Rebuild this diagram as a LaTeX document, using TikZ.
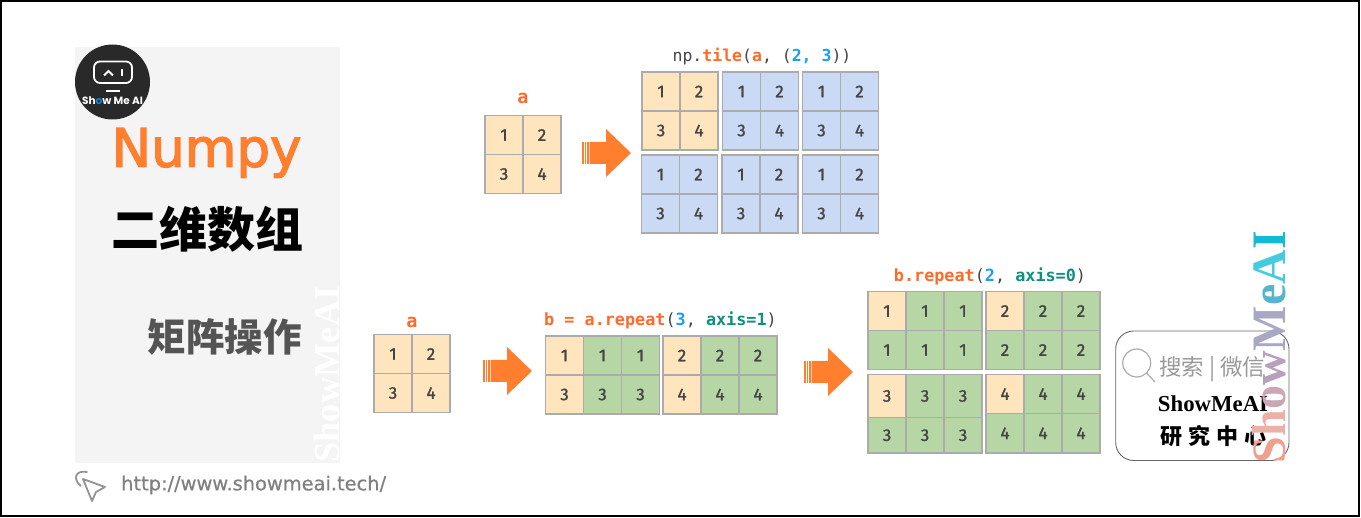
\documentclass[tikz,border=0pt]{standalone}
\usepackage{fontspec}
\setmainfont{Liberation Serif}
\newfontfamily\cjkfont{Noto Sans CJK SC}
\newfontfamily\codefont{DejaVu Sans Mono}
\newfontfamily\digitfont[FakeBold=1.2]{Fira Sans}
\newfontfamily\titlefont[FakeBold=2.5]{DejaVu Sans}
\newfontfamily\logofont{Poppins}
\newfontfamily\urlfont[FakeBold=0.6]{DejaVu Sans}
\definecolor{orangeC}{HTML}{FF7F2F}
\definecolor{codeO}{HTML}{FF6A2A}
\definecolor{codeB}{HTML}{1C9EF2}
\definecolor{codeT}{HTML}{0F8F80}
\definecolor{codeK}{HTML}{444444}
\definecolor{tanC}{HTML}{FFE5BE}
\definecolor{blueC}{HTML}{CADAF5}
\definecolor{greenC}{HTML}{B7D6A6}
\definecolor{lineC}{HTML}{ABABAB}
\definecolor{panelC}{HTML}{F4F4F4}
\tikzset{
  cell/.style={draw=lineC, line width=1.1pt, minimum width=38pt, inner sep=0pt,
    text=codeK, font=\digitfont\fontsize{17}{17}\selectfont},
  tan/.style={fill=tanC}, blu/.style={fill=blueC}, grn/.style={fill=greenC},
  code/.style={inner sep=0pt, text=codeK, font=\codefont\fontsize{16.8}{17}\selectfont},
  letter/.style={inner sep=0pt, text=codeO, font=\codefont\bfseries\fontsize{18.5}{18}\selectfont},
  cjk/.style={inner sep=0pt, font=\cjkfont\bfseries\fontsize{#1}{#1}\selectfont},
}
% grid of cells: name, left, top, columns, height of row 1, height of row 2, value/style list
\newcommand{\cellgrid}[7]{
  \foreach \val/\sty [count=\n from 0] in {#7} {
    \pgfmathtruncatemacro{\cc}{mod(\n,#4)}
    \pgfmathtruncatemacro{\rr}{floor(\n/#4)}
    \pgfmathsetmacro{\hh}{\rr==0 ? #5 : #6}
    \pgfmathsetmacro{\yy}{#3+(\rr==0 ? #5/2 : #5+#6/2)}
    \node[cell,\sty,minimum height=\hh pt] (#1-\n) at ({#2+19+38*\cc},\yy) {\val};
  }
}
% orange block arrow, tail at x, axis at y
\newcommand{\blockarrow}[2]{
  \begin{scope}[shift={(#1,#2)}]
    \fill[orangeC] (7.6,-11) -- (24,-11) -- (24,-24) -- (49,0) -- (24,24) -- (24,11) -- (7.6,11) -- cycle;
    \foreach \sx in {0,2.7,5.2} \fill[orangeC] (\sx,-11) rectangle ++(1.7,22);
  \end{scope}
}
\begin{document}
\begin{tikzpicture}[x=1pt,y=-1pt]
  \useasboundingbox (0,0) rectangle (1361,518);
  % frame
  \draw[line width=2pt] (1,1) rectangle (1358.5,516);
  % left panel
  \fill[panelC] (75,47) rectangle (340,463);
  \node[rotate=90,anchor=south west,inner sep=0pt,text=white,
    font=\bfseries\fontsize{36.5}{37}\selectfont] (markL) at (340,463) {ShowMeAI};
  % logo
  \node[circle,fill=codeK!60!black,inner sep=0pt,minimum size=75pt] (logo) at (112.5,82) {};
  \draw[white,line width=1.8pt,rounded corners=6pt] (94,61.5) rectangle (132,83);
  \draw[white,line width=1.8pt] (104,75.5) -- (108.5,71) -- (113,75.5);
  \draw[white,line width=1.8pt] (122,69.5) -- (122,76.5);
  \draw[white,line width=1.8pt] (106,91) -- (120,91);
  \node[inner sep=0pt,text=white,font=\logofont\bfseries\fontsize{10.5}{11}\selectfont] (logoT) at (112.5,100.5)
    {Sh\textcolor{cyan!70!blue}{o}w Me AI};
  % titles
  \node[inner sep=0pt,text=orangeC,font=\titlefont\fontsize{53}{53}\selectfont] (title) at (206.5,153) {Numpy};
  \node[cjk=48] (sub) at (207.5,229) {二维数组};
  \node[cjk=38.5,text=black!67] (sec) at (224.5,337) {矩阵操作};
  % url
  \draw[gray!85,line width=1.8pt,line join=round] (83,479) -- (105,487) -- (96,492) -- (92,501) -- cycle;
  \draw[gray!85,line width=1.8pt,line cap=round] (80.7,486) .. controls (72,478) and (76,470) .. (87,472);
  \node[inner sep=0pt,anchor=west,text=gray,font=\urlfont\fontsize{19.4}{20}\selectfont] (url) at (121,485) {http://www.showmeai.tech/};
  % top row
  \node[letter] (aT) at (523,98) {a};
  \cellgrid{aT}{485}{115.5}{2}{39}{39}{1/tan,2/tan,3/tan,4/tan}
  \blockarrow{582}{153}
  \node[code,font=\codefont\fontsize{16.5}{17}\selectfont] (tile) at (762,56.5) {np.\textcolor{codeO}{\bfseries tile}(\textcolor{codeO}{\bfseries a}, (\textcolor{codeB}{\bfseries 2, 3}))};
  \cellgrid{t1}{642}{72}{2}{39}{39}{1/tan,2/tan,3/tan,4/tan}
  \cellgrid{t2}{722.5}{72}{2}{39}{39}{1/blu,2/blu,3/blu,4/blu}
  \cellgrid{t3}{802.5}{72}{2}{39}{39}{1/blu,2/blu,3/blu,4/blu}
  \cellgrid{t4}{641.5}{155}{2}{39}{39}{1/blu,2/blu,3/blu,4/blu}
  \cellgrid{t5}{722}{155}{2}{39}{39}{1/blu,2/blu,3/blu,4/blu}
  \cellgrid{t6}{802.5}{155}{2}{39}{39}{1/blu,2/blu,3/blu,4/blu}
  % bottom row
  \node[letter] (aB) at (412,322) {a};
  \cellgrid{aB}{374}{334.5}{2}{39}{39}{1/tan,2/tan,3/tan,4/tan}
  \blockarrow{483}{371}
  \node[code] (rep1) at (660.5,320.5) {\textcolor{codeO}{\bfseries b = a.repeat}(\textcolor{codeB}{\bfseries 3}, \textcolor{codeT}{\bfseries axis=1})};
  \cellgrid{b1}{545.5}{336}{3}{39}{39}{1/tan,1/grn,1/grn,3/tan,3/grn,3/grn}
  \cellgrid{b2}{663}{336}{3}{39}{39}{2/tan,2/grn,2/grn,4/tan,4/grn,4/grn}
  \blockarrow{804}{372}
  \node[code] (rep2) at (990,276.5) {\textcolor{codeO}{\bfseries b.repeat}(\textcolor{codeB}{\bfseries 2}, \textcolor{codeT}{\bfseries axis=0})};
  \cellgrid{c1}{868}{291.5}{3}{39}{39}{1/tan,1/grn,1/grn,1/grn,1/grn,1/grn}
  \cellgrid{c2}{986}{291.5}{3}{39}{39}{2/tan,2/grn,2/grn,2/grn,2/grn,2/grn}
  \cellgrid{c3}{868}{374.5}{3}{43}{35.5}{3/tan,3/grn,3/grn,3/grn,3/grn,3/grn}
  \cellgrid{c4}{986}{374.5}{3}{39}{39.5}{4/tan,4/grn,4/grn,4/grn,4/grn,4/grn}
  % search box
  \draw[black!60,line width=0.9pt,rounded corners=18pt] (1115.7,331) rectangle (1289,460.5);
  \draw[gray!65,line width=1.2pt] (1136.7,363) circle (14);
  \draw[gray!65,line width=1.2pt] (1146.5,373) -- (1155,382);
  \node[inner sep=0pt,anchor=west,text=gray!80,font=\cjkfont\fontsize{22.5}{23}\selectfont] (srch) at (1159,369) {搜索\hspace{5pt}|\hspace{5pt}微信};
  \node[inner sep=0pt,text=black,font=\bfseries\fontsize{22.8}{23}\selectfont] (brand) at (1213,404) {ShowMeAI};
  \node[inner sep=0pt,text=black,font=\cjkfont\bfseries\fontsize{22}{22}\selectfont] (lab) at (1213.5,436) {研\hspace{6pt}究\hspace{6pt}中\hspace{6pt}心};
  % gradient word
  \node[rotate=90,anchor=south west,inner sep=0pt,font=\bfseries\fontsize{48}{48}\selectfont] (markR) at (1286,463.5)
    {\textcolor[HTML]{F2A08E}{S}\textcolor[HTML]{EBB0A6}{h}\textcolor[HTML]{C9A7B4}{o}\textcolor[HTML]{B6A0BA}{w}\textcolor[HTML]{A8A8C4}{M}\textcolor[HTML]{55B4D0}{e}\textcolor[HTML]{45CBE0}{A}\textcolor[HTML]{12BAD6}{I}};
\end{tikzpicture}
\end{document}
